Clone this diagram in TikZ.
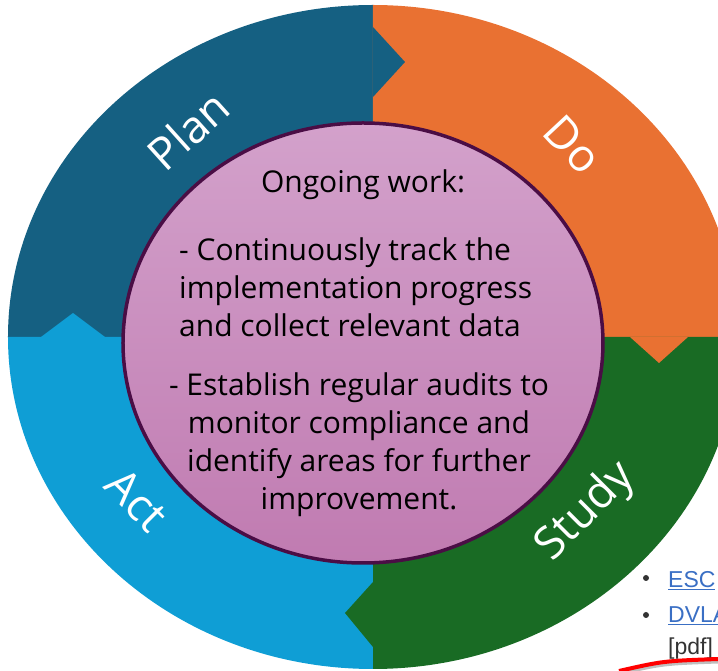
\documentclass[tikz,border=0pt]{standalone}
\usepackage{fontspec}
\setmainfont{Open Sans}
\newfontfamily\webfont{Liberation Sans}
\definecolor{plancol}{HTML}{156082}
\definecolor{docol}{HTML}{E97132}
\definecolor{studycol}{HTML}{196B24}
\definecolor{actcol}{HTML}{0F9ED5}
\definecolor{hubtop}{HTML}{D3A1CB}
\definecolor{hubbot}{HTML}{C07BB1}
\definecolor{hubrim}{HTML}{4A0D45}
\definecolor{linkcol}{HTML}{3A6FC4}
\tikzset{
  phase/.style={text=white, inner sep=0pt, font=\fontsize{45}{45}\selectfont},
  hubtext/.style={inner sep=0pt, font=\fontsize{30}{38}\selectfont},
  webtext/.style={inner sep=0pt, anchor=base west, font=\webfont\fontsize{23}{23}\selectfont},
}

\begin{document}
\begin{tikzpicture}[x=1pt, y=1pt]
			%%%%% START %%%%%
			\clip (-373, -334) rectangle (345, 337);
			
			% four quarters of the ring
			\fill[plancol] (0, 0) -- (-365, 0) arc[start angle=180, end angle=90, x radius=365, y radius=332] -- cycle;
			\fill[docol] (0, 0) -- (0, 332) arc[start angle=90, end angle=0, x radius=365, y radius=332] -- cycle;
			\fill[studycol] (0, 0) -- (365, 0) arc[start angle=0, end angle=-90, x radius=365, y radius=332] -- cycle;
			\fill[actcol] (0, 0) -- (0, -332) arc[start angle=-90, end angle=-180, x radius=365, y radius=332] -- cycle;
			
			% arrow tips between the quarters
			\fill[plancol] (0, 310) -- (32, 275) -- (0, 240) -- cycle;
			\fill[docol] (257, 0) -- (286, -26) -- (315, 0) -- cycle;
			\fill[studycol] (0, -245) -- (-28, -276) -- (0, -310) -- cycle;
			\fill[actcol] (-332, 0) -- (-300, 24) -- (-268, 0) -- cycle;
			
			% hub
			\shade[top color=hubtop, bottom color=hubbot] (-10, -6) ellipse [x radius=240, y radius=220];
			\draw[hubrim, line width=3.5] (-10, -6) ellipse [x radius=240, y radius=220];
			
			\node[phase, rotate=42] (plan) at (-185, 207) {Plan};
			\node[phase, rotate=-47] (do) at (200, 192) {Do};
			\node[phase, rotate=45] (study) at (213, -175) {Study};
			\node[phase, rotate=-45] (act) at (-236, -163) {Act};
			
			% base of a multi-line node sits on its last line
			\node[hubtext, anchor=base] (ongoing) at (-10, 144) {Ongoing work:};
			\node[hubtext, align=left, anchor=base west] (track) at (-194, 0) {- Continuously track the\\implementation progress\\and collect relevant data};
			\node[hubtext, align=center, anchor=base] (audit) at (-14, -173) {- Establish regular audits to\\monitor compliance and\\identify areas for further\\improvement.};
			
			% bits of the page behind
			\fill[black!80] (273, -241) circle (3);
			\fill[black!80] (273, -278) circle (3);
			\node[webtext, text=linkcol] (esc) at (295, -251) {\underline{ESC}};
			\node[webtext, text=linkcol] (dvla) at (295, -286) {\underline{DVLA}};
			\node[webtext, text=black!80] (pdf) at (295, -318) {[pdf]};
			\draw[black!25, line width=3] (246, -337) .. controls (290, -327) .. (345, -325);
			\draw[red, line width=4] (246, -334) .. controls (290, -324) .. (345, -322);
			
			%%%%% END %%%%%
\end{tikzpicture}
\end{document}
